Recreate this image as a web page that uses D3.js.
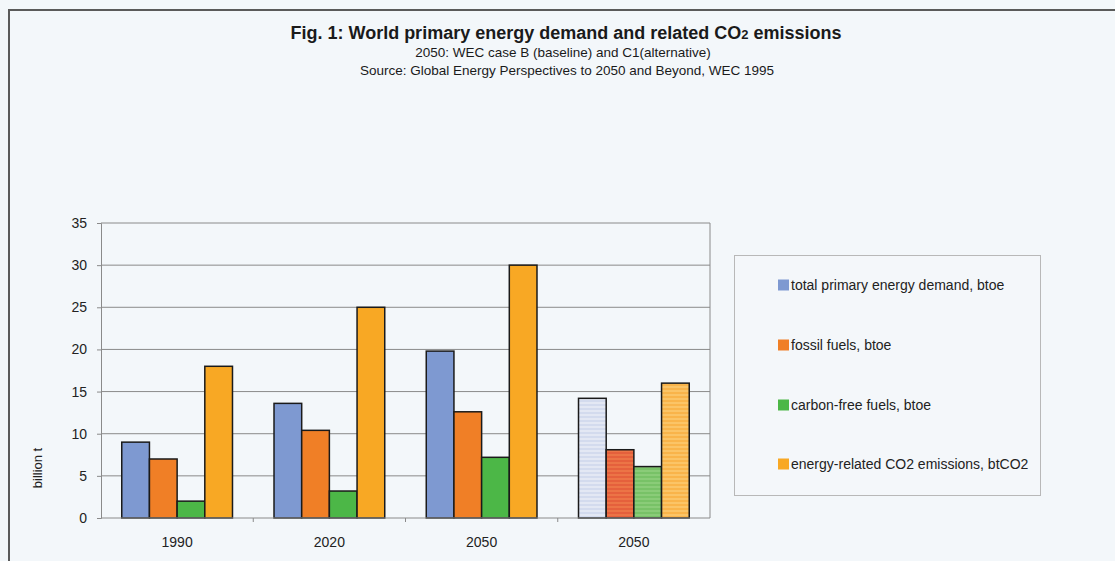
<!DOCTYPE html>
<html>
<head>
<meta charset="utf-8">
<script src="https://cdn.jsdelivr.net/npm/d3@7"></script>
<style>
  html, body { margin: 0; padding: 0; background: #f3f7fa; }
  svg { display: block; font-family: "Liberation Sans", Arial, sans-serif; }
</style>
</head>
<body>
<svg id="chart" width="1115" height="561"></svg>
<script>
// World primary energy demand and CO2 emissions (billion t)
const categories = ["1990", "2020", "2050", "2050 C1"];
const categoryLabels = ["1990", "2020", "2050", "2050"];
const seriesNames = [
  "total primary energy demand, btoe",
  "fossil fuels, btoe",
  "carbon-free fuels, btoe",
  "energy-related CO2 emissions, btCO2"
];
const totalDemand = [9, 13.6, 19.8, 14.2];
const fossilFuels = [7, 10.4, 12.6, 8.1];
const carbonFree = [2, 3.2, 7.2, 6.1];
const co2Emissions = [18, 25, 30, 16];
const yTicks = [0, 5, 10, 15, 20, 25, 30, 35];

const seriesValues = [totalDemand, fossilFuels, carbonFree, co2Emissions];
const colors = ["#7e99d1", "#f07f26", "#4cb747", "#f8a824"];
// alternative scenario (C1) drawn with lighter striped fills
const altColors = [
  ["#d3dbee", "#e3e8f4"],
  ["#e5603c", "#ec7446"],
  ["#78c267", "#8acc78"],
  ["#f9b44a", "#fbc466"]
];

const svg = d3.select("#chart");
const defs = svg.append("defs");
altColors.forEach((c, i) => {
  const p = defs.append("pattern")
    .attr("id", "alt" + i)
    .attr("patternUnits", "userSpaceOnUse")
    .attr("width", 8).attr("height", 4);
  p.append("rect").attr("width", 8).attr("height", 4).attr("fill", c[0]);
  p.append("rect").attr("y", 2).attr("width", 8).attr("height", 2).attr("fill", c[1]);
});

// outer frame (top and left edges visible)
svg.append("path")
  .attr("d", "M9,561 V10 H1115")
  .attr("fill", "none").attr("stroke", "#5a5a5a").attr("stroke-width", 2);

// titles
const title = svg.append("text").attr("x", 566).attr("y", 39).attr("text-anchor", "middle")
  .attr("font-size", 18).attr("font-weight", "bold").attr("fill", "#1a1a1a");
title.append("tspan").text("Fig. 1: World primary energy demand and related CO");
title.append("tspan").attr("font-size", 13).text("2");
title.append("tspan").text(" emissions");
svg.append("text").attr("x", 563).attr("y", 57).attr("text-anchor", "middle")
  .attr("font-size", 13.5).attr("fill", "#1a1a1a")
  .text("2050: WEC case B (baseline) and C1(alternative)");
svg.append("text").attr("x", 567).attr("y", 75).attr("text-anchor", "middle")
  .attr("font-size", 13.5).attr("fill", "#1a1a1a")
  .text("Source: Global Energy Perspectives to 2050 and Beyond, WEC 1995");

const plot = { left: 101, right: 710, top: 223, bottom: 518 };

const x0 = d3.scaleBand().domain(categories).range([plot.left, plot.right]).padding(0);
const x1 = d3.scaleBand().domain(d3.range(seriesNames.length))
  .range([0, x0.bandwidth()]).paddingInner(0).paddingOuter(0.75);
const y = d3.scaleLinear().domain([0, 35]).range([plot.bottom, plot.top]);

// gridlines
svg.append("g").selectAll("line").data(yTicks.filter(d => d > 0)).join("line")
  .attr("x1", plot.left).attr("x2", plot.right)
  .attr("y1", d => y(d)).attr("y2", d => y(d))
  .attr("stroke", "#8a8a8a").attr("stroke-width", 1);
// right border of plot area
svg.append("line").attr("x1", plot.right).attr("x2", plot.right)
  .attr("y1", plot.top).attr("y2", plot.bottom)
  .attr("stroke", "#8a8a8a").attr("stroke-width", 1);

// bars
const groups = svg.append("g").selectAll("g").data(categories).join("g")
  .attr("transform", d => `translate(${x0(d)},0)`);
groups.selectAll("rect")
  .data((c, ci) => seriesValues.map((vals, si) => ({ ci, si, v: vals[ci] })))
  .join("rect")
  .attr("x", d => x1(d.si))
  .attr("width", x1.bandwidth())
  .attr("y", d => y(d.v))
  .attr("height", d => y(0) - y(d.v))
  .attr("fill", d => d.ci === 3 ? `url(#alt${d.si})` : colors[d.si])
  .attr("stroke", "#1a1a1a").attr("stroke-width", 1.5);

// y axis
const yAxis = svg.append("g").attr("transform", `translate(${plot.left},0)`)
  .call(d3.axisLeft(y).tickValues(yTicks).tickSize(4).tickPadding(10));
yAxis.select(".domain").attr("stroke", "#8a8a8a");
yAxis.selectAll(".tick line").attr("stroke", "#8a8a8a");
yAxis.selectAll("text").attr("font-size", 14).attr("fill", "#222")
  .attr("font-family", "Liberation Sans, Arial, sans-serif");

// x axis
const xAxis = svg.append("g").attr("transform", `translate(0,${plot.bottom})`)
  .call(d3.axisBottom(x0).tickSize(0).tickPadding(19).tickFormat((d, i) => categoryLabels[i]));
xAxis.select(".domain").attr("stroke", "#8a8a8a").attr("d", `M${plot.left},0H${plot.right}`);
xAxis.selectAll("text").attr("font-size", 14).attr("fill", "#222")
  .attr("font-family", "Liberation Sans, Arial, sans-serif");
// category separator ticks
svg.append("g").selectAll("line").data(categories.slice(1)).join("line")
  .attr("x1", d => x0(d)).attr("x2", d => x0(d))
  .attr("y1", plot.bottom).attr("y2", plot.bottom + 4)
  .attr("stroke", "#8a8a8a");

// y axis title
svg.append("text").attr("transform", "translate(42,468) rotate(-90)")
  .attr("text-anchor", "middle").attr("font-size", 13).attr("fill", "#222")
  .text("billion t");

// legend
const legend = svg.append("g");
legend.append("rect").attr("x", 734.5).attr("y", 255.5).attr("width", 306).attr("height", 240)
  .attr("fill", "#f4f7fa").attr("stroke", "#b8b8b8");
const rowY = [285, 345, 405, 464];
const items = legend.selectAll("g.item").data(seriesNames).join("g").attr("class", "item")
  .attr("transform", (d, i) => `translate(778,${rowY[i]})`);
items.append("rect").attr("x", 0).attr("y", -5.5).attr("width", 11).attr("height", 11)
  .attr("fill", (d, i) => colors[i]);
items.append("text").attr("x", 13).attr("y", 5).attr("font-size", 14).attr("fill", "#222")
  .text(d => d);
</script>
</body>
</html>
